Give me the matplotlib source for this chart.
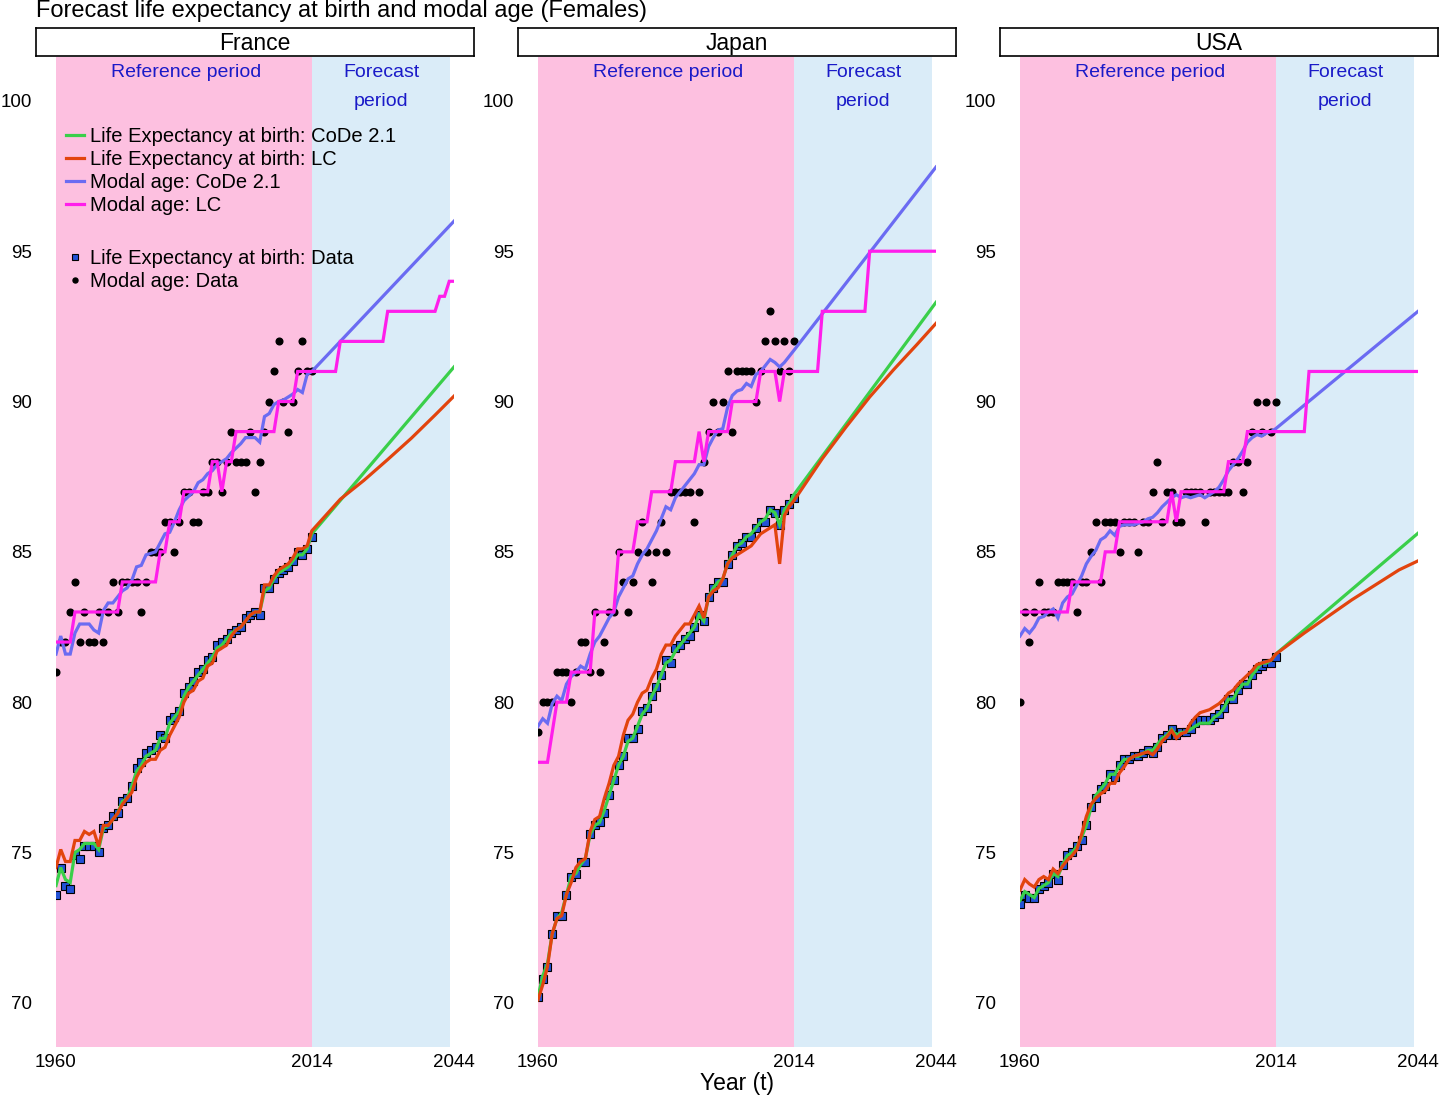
import numpy as np
import matplotlib.pyplot as plt

plt.rcParams['font.family'] = ['Liberation Sans', 'DejaVu Sans']

# ---- data -------------------------------------------------------------
YEARS = np.arange(1960, 2015)
COUNTRIES = ["France", "Japan", "USA"]

# France
FRA_LE_DATA = [73.6, 74.5, 73.9, 73.8, 74.9, 74.8, 75.2, 75.2, 75.2, 75.0,
               75.8, 75.9, 76.2, 76.3, 76.7, 76.8, 77.2, 77.8, 78.0, 78.3,
               78.4, 78.5, 78.9, 78.8, 79.4, 79.5, 79.7, 80.3, 80.5, 80.7,
               81.0, 81.1, 81.4, 81.5, 81.9, 82.0, 82.1, 82.3, 82.4, 82.5,
               82.8, 82.9, 83.0, 82.9, 83.8, 83.8, 84.1, 84.3, 84.4, 84.5,
               84.7, 85.0, 84.9, 85.1, 85.5]
FRA_LE_CODE = [73.9, 74.5, 74.1, 74.0, 75.0, 75.1, 75.3, 75.3, 75.3, 75.1,
               75.8, 75.9, 76.1, 76.3, 76.7, 76.8, 77.2, 77.7, 77.9, 78.2,
               78.3, 78.4, 78.8, 78.8, 79.3, 79.5, 79.7, 80.2, 80.5, 80.7,
               80.9, 81.1, 81.3, 81.5, 81.8, 81.9, 82.1, 82.3, 82.4, 82.5,
               82.7, 82.9, 83.0, 83.0, 83.7, 83.8, 84.1, 84.3, 84.4, 84.5,
               84.7, 84.9, 84.9, 85.1, 85.6]
FRA_LE_LC = [74.5, 75.1, 74.7, 74.7, 75.4, 75.4, 75.7, 75.6, 75.7, 75.2,
             75.9, 75.9, 76.1, 76.3, 76.6, 76.8, 77.0, 77.5, 77.8, 78.0,
             78.1, 78.1, 78.4, 78.5, 78.9, 79.2, 79.5, 80.0, 80.3, 80.4,
             80.7, 80.8, 81.2, 81.3, 81.7, 81.8, 81.9, 82.2, 82.4, 82.5,
             82.7, 82.9, 83.0, 83.0, 83.9, 83.9, 84.2, 84.4, 84.5, 84.6,
             84.8, 85.1, 85.1, 85.2, 85.7]
FRA_MODE_DATA = [81, 82, 82, 83, 84, 82, 83, 82, 82, 83,
                 82, 83, 84, 83, 84, 84, 84, 84, 83, 84,
                 85, 85, 85, 86, 86, 85, 86, 87, 87, 86,
                 86, 87, 87, 88, 88, 87, 88, 89, 88, 88,
                 88, 89, 87, 88, 89, 90, 91, 92, 90, 89,
                 90, 91, 92, 91, 91]
FRA_MODE_CODE = [81.6, 82.2, 81.6, 81.6, 82.3, 82.6, 82.6, 82.6, 82.4, 82.3,
                 83.05, 83.3, 83.3, 83.5, 83.7, 83.8, 84.05, 84.5, 84.55, 84.9,
                 84.95, 85.0, 85.3, 85.6, 85.65, 86.0, 86.4, 86.7, 86.85, 87.0,
                 87.3, 87.4, 87.6, 87.7, 87.9, 88.0, 88.1, 88.3, 88.45, 88.6,
                 88.8, 88.8, 88.8, 88.65, 89.5, 89.6, 89.9, 90.0, 90.05, 90.15,
                 90.25, 90.4, 90.3, 90.9, 91.0]
FRA_MODE_LC = [82, 82, 82, 82, 83, 83, 83, 83, 83, 83,
               83, 83, 83, 83, 84, 84, 84, 84, 84, 84,
               84, 84, 85, 85, 86, 86, 86, 87, 87, 87,
               87, 87, 87, 88, 88, 87, 88, 88, 89, 89,
               89, 89, 89, 89, 89, 89, 89, 90, 90, 90,
               90, 91, 91, 91, 91]
FRA_LE_CODE_FC_YEARS = [2044]
FRA_LE_CODE_FC = [91.15]
FRA_LE_LC_FC_YEARS = [2020, 2025, 2030, 2035, 2040, 2044]
FRA_LE_LC_FC = [86.75, 87.38, 88.07, 88.78, 89.55, 90.18]
FRA_MODE_CODE_FC_YEARS = [2044]
FRA_MODE_CODE_FC = [96.0]
FRA_MODE_LC_FC_YEARS = [2019, 2020, 2029, 2030, 2040, 2041, 2042, 2043, 2044]
FRA_MODE_LC_FC = [91, 92, 92, 93, 93, 93.5, 93.5, 94, 94]

# Japan
JPN_LE_DATA = [70.2, 70.8, 71.2, 72.3, 72.9, 72.9, 73.6, 74.2, 74.3, 74.7,
               74.7, 75.6, 75.9, 76.0, 76.3, 76.9, 77.4, 77.9, 78.2, 78.8,
               78.8, 79.1, 79.7, 79.8, 80.2, 80.5, 80.9, 81.4, 81.3, 81.8,
               81.9, 82.1, 82.2, 82.5, 82.9, 82.7, 83.5, 83.8, 84.0, 84.0,
               84.6, 84.9, 85.2, 85.3, 85.5, 85.5, 85.8, 86.0, 86.0, 86.4,
               86.3, 85.9, 86.4, 86.6, 86.8]
JPN_LE_CODE = [70.2, 70.9, 71.3, 72.3, 72.8, 73.0, 73.6, 74.2, 74.3, 74.6,
               74.8, 75.6, 75.9, 76.0, 76.4, 76.9, 77.4, 77.9, 78.2, 78.7,
               78.8, 79.2, 79.6, 79.8, 80.2, 80.5, 80.9, 81.3, 81.4, 81.7,
               81.9, 82.1, 82.3, 82.5, 82.9, 82.7, 83.5, 83.8, 84.0, 84.1,
               84.6, 84.9, 85.2, 85.3, 85.5, 85.6, 85.8, 86.0, 86.1, 86.4,
               86.3, 85.9, 86.4, 86.6, 86.9]
JPN_LE_LC = [70.1, 70.6, 71.2, 72.3, 72.8, 72.9, 73.6, 74.0, 74.5, 74.7,
             74.8, 75.7, 76.1, 76.2, 76.8, 77.3, 77.9, 78.2, 78.9, 79.4,
             79.6, 80.0, 80.3, 80.4, 80.8, 81.1, 81.6, 81.9, 81.9, 82.2,
             82.4, 82.6, 82.6, 82.9, 83.2, 82.8, 83.5, 83.7, 83.8, 84.1,
             84.6, 84.8, 84.9, 85.0, 85.1, 85.2, 85.4, 85.6, 85.7, 85.8,
             85.9, 84.6, 86.2, 86.5, 86.7]
JPN_MODE_DATA = [79, 80, 80, 80, 81, 81, 81, 80, 81, 82,
                 82, 81, 83, 81, 82, 83, 83, 85, 84, 83,
                 84, 85, 86, 85, 84, 85, 86, 85, 87, 87,
                 87, 87, 87, 86, 87, 88, 89, 90, 89, 90,
                 91, 89, 91, 91, 91, 91, 90, 91, 92, 93,
                 92, 91, 92, 91, 92]
JPN_MODE_CODE = [79.2, 79.45, 79.3, 79.95, 80.2, 80.05, 80.6, 80.85, 81.0, 81.2,
                 81.1, 81.6, 82.0, 82.2, 82.5, 82.8, 83.0, 83.5, 83.8, 84.1,
                 84.2, 84.6, 84.9, 85.1, 85.4, 85.7, 86.1, 86.5, 86.4, 86.8,
                 87.0, 87.2, 87.4, 87.6, 87.9, 87.9, 88.5, 88.8, 89.05, 89.1,
                 89.8, 90.2, 90.35, 90.4, 90.6, 90.5, 90.9, 91.0, 91.2, 91.4,
                 91.3, 91.15, 91.3, 91.5, 91.7]
JPN_MODE_LC = [78, 78, 78, 79, 80, 80, 80, 81, 81, 81,
               81, 81, 83, 83, 83, 83, 83, 85, 85, 85,
               85, 86, 86, 86, 87, 87, 87, 87, 87, 88,
               88, 88, 88, 88, 89, 88, 89, 89, 89, 89,
               89, 90, 90, 90, 90, 90, 90, 91, 91, 91,
               91, 90, 91, 91, 91]
JPN_LE_CODE_FC_YEARS = [2044]
JPN_LE_CODE_FC = [93.3]
JPN_LE_LC_FC_YEARS = [2020, 2025, 2030, 2035, 2040, 2044]
JPN_LE_LC_FC = [88.1, 89.15, 90.15, 91.05, 91.9, 92.6]
JPN_MODE_CODE_FC_YEARS = [2044]
JPN_MODE_CODE_FC = [97.8]
JPN_MODE_LC_FC_YEARS = [2019, 2020, 2029, 2030, 2044]
JPN_MODE_LC_FC = [91, 93, 93, 95, 95]

# USA
USA_LE_DATA = [73.3, 73.6, 73.5, 73.5, 73.8, 73.9, 74.0, 74.3, 74.1, 74.6,
               74.9, 75.0, 75.2, 75.4, 75.9, 76.5, 76.8, 77.1, 77.2, 77.6,
               77.5, 77.9, 78.1, 78.1, 78.2, 78.2, 78.3, 78.4, 78.3, 78.5,
               78.8, 78.9, 79.1, 78.9, 79.0, 79.0, 79.1, 79.3, 79.4, 79.4,
               79.4, 79.5, 79.6, 79.8, 80.1, 80.1, 80.4, 80.6, 80.6, 80.9,
               81.1, 81.2, 81.3, 81.3, 81.5]
USA_LE_CODE = [73.4, 73.7, 73.6, 73.5, 73.8, 73.9, 74.0, 74.3, 74.2, 74.6,
               74.9, 75.0, 75.2, 75.5, 75.9, 76.5, 76.9, 77.1, 77.3, 77.6,
               77.6, 77.9, 78.1, 78.1, 78.2, 78.2, 78.3, 78.4, 78.4, 78.6,
               78.8, 78.9, 79.1, 78.9, 79.0, 79.0, 79.1, 79.2, 79.3, 79.3,
               79.3, 79.5, 79.6, 79.8, 80.1, 80.1, 80.4, 80.6, 80.6, 80.9,
               81.1, 81.3, 81.3, 81.4, 81.6]
USA_LE_LC = [73.75, 74.1, 73.95, 73.85, 74.1, 74.2, 74.1, 74.45, 74.3, 74.55,
             74.75, 74.9, 75.1, 75.6, 76.2, 76.6, 76.8, 76.95, 77.05, 77.3,
             77.3, 77.65, 77.85, 78.1, 78.2, 78.25, 78.3, 78.35, 78.25, 78.45,
             78.7, 78.85, 79.05, 78.8, 78.95, 79.0, 79.3, 79.5, 79.65, 79.7,
             79.75, 79.85, 79.95, 80.1, 80.3, 80.4, 80.6, 80.75, 80.9, 81.05,
             81.25, 81.3, 81.35, 81.4, 81.6]
USA_MODE_DATA = [80, 83, 82, 83, 84, 83, 83, 83, 84, 84,
                 84, 84, 83, 84, 84, 85, 86, 84, 86, 86,
                 86, 85, 86, 86, 86, 85, 86, 86, 87, 88,
                 86, 87, 87, 86, 86, 87, 87, 87, 87, 86,
                 87, 87, 87, 87, 87, 88, 88, 87, 88, 89,
                 90, 89, 90, 89, 90]
USA_MODE_CODE = [82.2, 82.45, 82.3, 82.5, 82.8, 82.85, 83.0, 83.1, 82.8, 83.3,
                 83.5, 83.6, 83.9, 84.2, 84.6, 84.85, 85.05, 85.4, 85.5, 85.7,
                 85.55, 85.85, 85.9, 85.9, 85.9, 85.95, 86.0, 86.1, 86.15, 86.3,
                 86.5, 86.65, 86.8, 86.9, 86.8, 86.85, 86.8, 86.85, 86.9, 86.8,
                 86.9, 87.0, 87.15, 87.4, 87.7, 87.9, 88.1, 88.35, 88.65, 88.8,
                 88.9, 88.85, 88.95, 89.0, 89.1]
USA_MODE_LC = [83, 83, 83, 83, 83, 83, 83, 83, 83, 83,
               83, 84, 84, 84, 84, 84, 84, 84, 85, 85,
               85, 86, 86, 86, 86, 86, 86, 86, 86, 86,
               86, 86, 87, 86, 87, 87, 87, 87, 87, 87,
               87, 87, 87, 87, 88, 88, 88, 88, 89, 89,
               89, 89, 89, 89, 89]
USA_LE_CODE_FC_YEARS = [2044]
USA_LE_CODE_FC = [85.62]
USA_LE_LC_FC_YEARS = [2020, 2025, 2030, 2035, 2040, 2044]
USA_LE_LC_FC = [82.3, 82.85, 83.4, 83.9, 84.4, 84.7]
USA_MODE_CODE_FC_YEARS = [2044]
USA_MODE_CODE_FC = [93.0]
USA_MODE_LC_FC_YEARS = [2020, 2021, 2044]
USA_MODE_LC_FC = [89, 91, 91]

# ---- style ------------------------------------------------------------
PINK = "#FDC0E0"
LIGHTBLUE = "#DAECF8"
TEXT_BLUE = "#1A1AC8"
C_LE_CODE = "#3ACF4A"
C_LE_LC = "#E2440E"
C_MODE_CODE = "#6B6BF2"
C_MODE_LC = "#FF1EEB"
SQ_FILL = "#2352D6"
LW = 2.3

W, H = 1440, 1095
AX_LEFT = [56, 538, 1020]
AX_W = 398
AX_TOP, AX_BOTTOM = 57, 1047


def joined(ref, fc_years, fc_vals):
    return np.concatenate([YEARS, fc_years]), np.concatenate([ref, fc_vals])


def draw_panel(ax, le_data, le_code, le_lc, mode_data, mode_code, mode_lc,
               le_code_fc, le_lc_fc, mode_code_fc, mode_lc_fc):
    ax.axvspan(1960, 2014, color=PINK, lw=0, zorder=0)
    ax.axvspan(2014, 2043.2, color=LIGHTBLUE, lw=0, zorder=0)

    h_sq, = ax.plot(YEARS, le_data, ls="none", marker="s", ms=5.5, mfc=SQ_FILL,
                    mec="black", mew=0.8, zorder=2)
    h_dot, = ax.plot(YEARS, mode_data, ls="none", marker="o", ms=4.8,
                     color="black", zorder=2)

    handles = []
    for ref, fc, col in [(le_code, le_code_fc, C_LE_CODE),
                         (le_lc, le_lc_fc, C_LE_LC),
                         (mode_code, mode_code_fc, C_MODE_CODE),
                         (mode_lc, mode_lc_fc, C_MODE_LC)]:
        x, y = joined(ref, *fc)
        h, = ax.plot(x, y, color=col, lw=LW, zorder=3, solid_joinstyle="miter")
        handles.append(h)

    ax.set_xlim(1960, 2044)
    ax.set_ylim(68.53, 101.46)
    ax.set_xticks([1960, 2014, 2044])
    ax.set_yticks([70, 75, 80, 85, 90, 95, 100])
    ax.tick_params(length=0, labelsize=13.5)
    ax.tick_params(axis="y", pad=17)
    ax.tick_params(axis="x", pad=5)
    for s in ax.spines.values():
        s.set_visible(False)

    ax.text(1987.5, 100.95, "Reference period", ha="center", va="center",
            color=TEXT_BLUE, fontsize=14)
    ax.text(2028.6, 100.95, "Forecast", ha="center", va="center",
            color=TEXT_BLUE, fontsize=14)
    ax.text(2028.6, 99.98, "period", ha="center", va="center",
            color=TEXT_BLUE, fontsize=14)
    return handles, h_sq, h_dot


fig = plt.figure(figsize=(W / 100, H / 100), dpi=100)

panels = [
    (FRA_LE_DATA, FRA_LE_CODE, FRA_LE_LC, FRA_MODE_DATA, FRA_MODE_CODE, FRA_MODE_LC,
     (FRA_LE_CODE_FC_YEARS, FRA_LE_CODE_FC), (FRA_LE_LC_FC_YEARS, FRA_LE_LC_FC),
     (FRA_MODE_CODE_FC_YEARS, FRA_MODE_CODE_FC), (FRA_MODE_LC_FC_YEARS, FRA_MODE_LC_FC)),
    (JPN_LE_DATA, JPN_LE_CODE, JPN_LE_LC, JPN_MODE_DATA, JPN_MODE_CODE, JPN_MODE_LC,
     (JPN_LE_CODE_FC_YEARS, JPN_LE_CODE_FC), (JPN_LE_LC_FC_YEARS, JPN_LE_LC_FC),
     (JPN_MODE_CODE_FC_YEARS, JPN_MODE_CODE_FC), (JPN_MODE_LC_FC_YEARS, JPN_MODE_LC_FC)),
    (USA_LE_DATA, USA_LE_CODE, USA_LE_LC, USA_MODE_DATA, USA_MODE_CODE, USA_MODE_LC,
     (USA_LE_CODE_FC_YEARS, USA_LE_CODE_FC), (USA_LE_LC_FC_YEARS, USA_LE_LC_FC),
     (USA_MODE_CODE_FC_YEARS, USA_MODE_CODE_FC), (USA_MODE_LC_FC_YEARS, USA_MODE_LC_FC)),
]

axes = []
for i, (name, args) in enumerate(zip(COUNTRIES, panels)):
    left = AX_LEFT[i]
    ax = fig.add_axes([left / W, (H - AX_BOTTOM) / H, AX_W / W, (AX_BOTTOM - AX_TOP) / H])
    handles, h_sq, h_dot = draw_panel(ax, *args)
    axes.append(ax)

    # strip with the country name
    sax = fig.add_axes([(left - 20) / W, (H - 56) / H, (AX_W + 40) / W, 28 / H])
    sax.set_xticks([])
    sax.set_yticks([])
    for s in sax.spines.values():
        s.set_linewidth(1.2)
    sax.text(0.5, 0.45, name, ha="center", va="center", fontsize=16.5,
             transform=sax.transAxes)

    if i == 0:
        leg_kw = dict(loc="upper left", frameon=False, fontsize=14.5,
                      handlelength=0.9, handletextpad=0.3, labelspacing=0.2,
                      borderpad=0, borderaxespad=0)
        leg1 = ax.legend(handles, ["Life Expectancy at birth: CoDe 2.1",
                                   "Life Expectancy at birth: LC",
                                   "Modal age: CoDe 2.1", "Modal age: LC"],
                         bbox_to_anchor=(0.025, 0.929), **leg_kw)
        ax.add_artist(leg1)
        ax.legend([h_sq, h_dot], ["Life Expectancy at birth: Data", "Modal age: Data"],
                  bbox_to_anchor=(0.025, 0.806), markerscale=0.75, **leg_kw)

axes[1].set_xlabel("Year (t)", fontsize=16.5, labelpad=1)

fig.text(36 / W, 1 - 11 / H, "Forecast life expectancy at birth and modal age (Females)",
         ha="left", va="center", fontsize=17)

fig.savefig("out.png", dpi=100)
